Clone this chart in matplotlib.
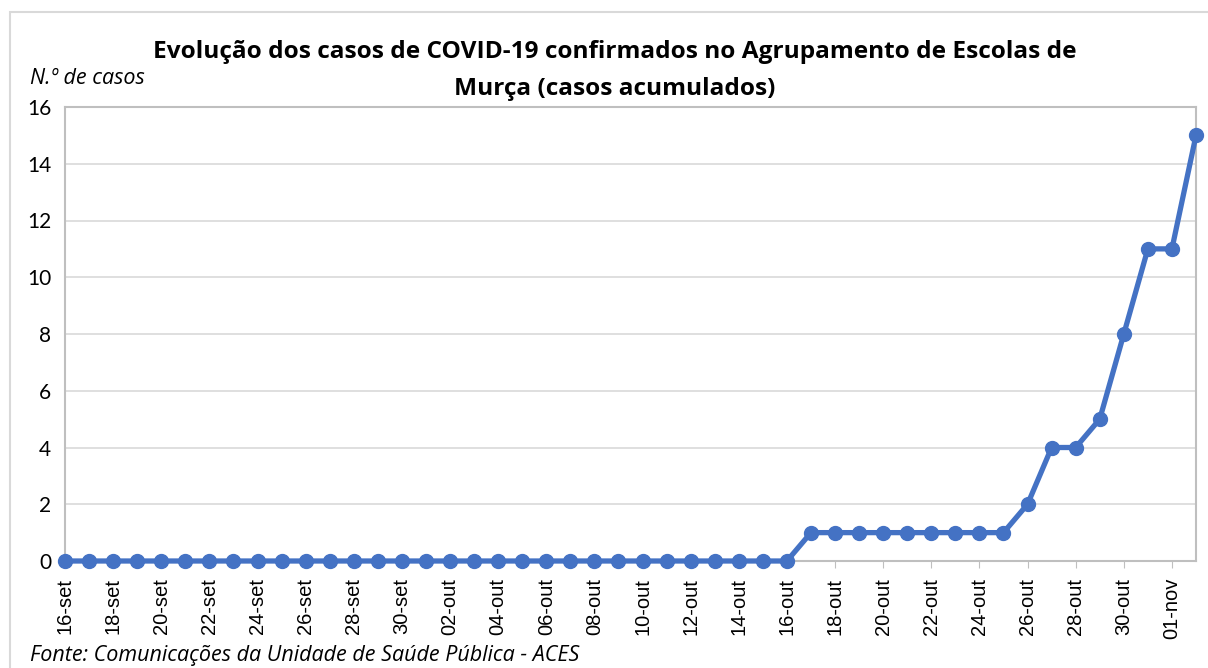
import matplotlib
matplotlib.use("Agg")
import matplotlib.pyplot as plt
from matplotlib.patches import Rectangle
import datetime as dt

# dados: casos acumulados, 16-set a 02-nov
start = dt.date(2020, 9, 16)
months = {9: "set", 10: "out", 11: "nov"}
casos = [0] * 31 + [1, 1, 1, 1, 1, 1, 1, 1, 1, 2, 4, 4, 5, 8, 11, 11, 15]
dias = [start + dt.timedelta(days=i) for i in range(len(casos))]
labels = [f"{d.day:02d}-{months[d.month]}" for d in dias]
y_ticks = [0, 2, 4, 6, 8, 10, 12, 14, 16]

W, H = 1208, 668
fig = plt.figure(figsize=(W / 100, H / 100), dpi=100)
ax = fig.add_axes([65 / W, 1 - 561 / H, (1196 - 65) / W, (561 - 107) / H])

x = list(range(len(casos)))
ax.plot(x, casos, color="#4472C4", linewidth=3.8, marker="o", markersize=10,
        clip_on=False, zorder=3)

ax.set_xlim(0, len(casos) - 1)
ax.set_ylim(0, 16)
ax.set_yticks(y_ticks)
ax.set_yticklabels([str(v) for v in y_ticks], fontsize=15, family="Lato")
ax.set_xticks(x[::2])
ax.set_xticklabels(labels[::2], rotation=90, fontsize=14.5, family="Liberation Sans")
ax.tick_params(axis="y", length=0, pad=10)
ax.tick_params(axis="x", length=5, color="#bfbfbf", pad=7)
ax.grid(axis="y", color="#d9d9d9", linewidth=1.2)
ax.set_axisbelow(True)
for s in ax.spines.values():
    s.set_color("#bfbfbf")
    s.set_linewidth(1.5)

fig.text(615 / W, 1 - 52 / H, "Evolução dos casos de COVID-19 confirmados no Agrupamento de Escolas de",
         ha="center", va="center", fontsize=17.6, fontweight="bold", family="Open Sans")
fig.text(615 / W, 1 - 89 / H, "Murça (casos acumulados)",
         ha="center", va="center", fontsize=17.6, fontweight="bold", family="Open Sans")
fig.text(30 / W, 1 - 78 / H, "N.º de casos", ha="left", va="center",
         fontsize=15.5, style="italic", family="Open Sans")
fig.text(30 / W, 1 - 656 / H, "Fonte: Comunicações da Unidade de Saúde Pública - ACES",
         ha="left", va="center", fontsize=15.5, style="italic", family="Open Sans")

fig.patches.append(Rectangle((10 / W, -0.05), 1.2, 1 - 12 / H + 0.05,
                             transform=fig.transFigure, fill=False,
                             edgecolor="#d9d9d9", linewidth=1.5))

fig.savefig("out.png", dpi=100)
